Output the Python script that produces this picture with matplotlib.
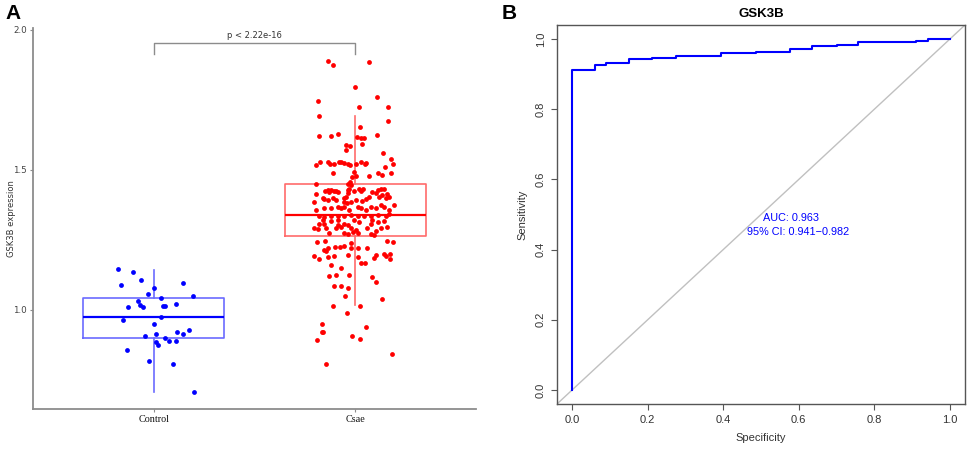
import matplotlib
matplotlib.use("Agg")
import matplotlib.pyplot as plt

# ---------------- Panel A data ----------------
groups = ["Control", "Csae"]
group_pos = [1, 2]

control_x = [0.820, 0.899, 0.835, 0.937, 1.144, 1.002, 0.969, 1.193, 1.036, 0.921,
             0.873, 0.932, 0.947, 1.112, 1.048, 1.058, 1.036, 0.845, 1.000, 1.173,
             1.117, 1.144, 1.013, 0.957, 1.054, 1.073, 1.109, 1.013, 1.021, 0.866,
             0.977, 1.097, 1.200]
control_y = [1.144, 1.135, 1.087, 1.105, 1.095, 1.079, 1.057, 1.048, 1.042, 1.030,
             1.010, 1.017, 1.011, 1.020, 1.015, 1.012, 0.974, 0.962, 0.949, 0.929,
             0.921, 0.915, 0.913, 0.906, 0.901, 0.887, 0.888, 0.885, 0.876, 0.858,
             0.819, 0.805, 0.707]

csae_x = [
    # upper tail
    1.863, 1.891, 2.069, 1.998, 2.106, 1.817, 2.020, 2.163, 1.818, 2.162,
    2.025, 1.820, 1.880, 1.914, 2.010, 2.031, 2.043, 2.109, 1.954, 1.974,
    2.036, 1.952, 2.137, 2.178, 2.186, 1.807, 1.827, 1.863, 1.873, 1.893,
    1.919, 1.932, 1.946, 1.962, 1.972, 2.005, 2.030, 2.048, 2.054, 2.150,
    1.888, 1.993, 2.002, 2.069, 2.114, 2.132, 2.177, 1.983, 1.975, 1.964,
    # box upper half
    1.805, 1.850, 1.863, 1.871, 1.880, 1.893, 1.904, 1.913, 1.805, 1.838,
    1.847, 1.863, 1.888, 1.904, 1.946, 1.954, 1.962, 1.970, 1.979, 1.995,
    2.020, 2.028, 2.041, 1.962, 1.942, 1.959, 1.979, 2.003, 2.036, 2.053,
    2.069, 2.086, 2.111, 2.127, 2.144, 2.102, 2.119, 2.135, 2.152, 2.160,
    2.168, 2.193, 1.797, 1.805, 1.847, 1.880, 1.913, 1.929, 1.946, 1.970,
    2.012, 2.028, 2.053, 2.078, 2.102, 2.127, 2.144, 2.168, 1.822, 1.847,
    1.880, 1.913, 1.946, 1.979, 2.012, 2.045, 2.078, 2.111, 2.152, 2.168,
    # box lower half
    1.838, 1.880, 1.913, 1.995, 2.020, 2.086, 2.144, 1.913, 1.904, 1.929,
    1.946, 1.962, 1.979, 1.987, 2.003, 2.012, 2.078, 2.111, 2.127, 2.061,
    2.102, 2.160, 1.797, 1.814, 1.855, 1.871, 1.946, 1.962, 2.078, 2.094,
    1.822, 1.847,
    # below box
    1.810, 1.850, 1.863, 1.843, 1.855, 1.899, 1.926, 1.942, 1.979, 1.979,
    2.012, 2.061, 2.160, 2.190, 1.797, 1.822, 1.863, 1.896, 1.962, 2.012,
    2.094, 2.102, 2.144, 2.152, 2.173, 2.173, 1.880, 1.929, 2.028, 2.048,
    1.871, 1.904, 1.970, 2.086,
    # lower tail
    2.102, 1.896, 1.929, 1.965, 1.949, 2.132, 1.891, 2.025, 1.960, 1.835,
    2.053, 1.833, 1.842, 1.812, 1.985, 2.023, 2.182, 1.855]
csae_y = [
    1.888, 1.874, 1.886, 1.796, 1.761, 1.746, 1.725, 1.724, 1.693, 1.674,
    1.654, 1.621, 1.621, 1.629, 1.618, 1.613, 1.614, 1.624, 1.590, 1.586,
    1.592, 1.570, 1.561, 1.537, 1.520, 1.518, 1.529, 1.527, 1.519, 1.519,
    1.526, 1.526, 1.524, 1.519, 1.518, 1.520, 1.529, 1.520, 1.525, 1.510,
    1.490, 1.492, 1.479, 1.479, 1.487, 1.483, 1.489, 1.473, 1.457, 1.449,
    1.448, 1.424, 1.427, 1.421, 1.427, 1.424, 1.424, 1.419, 1.412, 1.400,
    1.395, 1.392, 1.398, 1.392, 1.398, 1.404, 1.427, 1.433, 1.445, 1.424,
    1.433, 1.424, 1.431, 1.416, 1.386, 1.380, 1.386, 1.392, 1.388, 1.395,
    1.404, 1.421, 1.427, 1.433, 1.433, 1.416, 1.404, 1.410, 1.398, 1.412,
    1.404, 1.374, 1.386, 1.356, 1.362, 1.362, 1.368, 1.362, 1.368, 1.356,
    1.368, 1.362, 1.356, 1.368, 1.362, 1.374, 1.368, 1.356, 1.336, 1.332,
    1.336, 1.335, 1.336, 1.338, 1.336, 1.335, 1.336, 1.338, 1.335, 1.341,
    1.320, 1.317, 1.320, 1.320, 1.314, 1.320, 1.317, 1.302, 1.291, 1.297,
    1.308, 1.304, 1.291, 1.279, 1.285, 1.273, 1.308, 1.312, 1.291, 1.291,
    1.281, 1.296, 1.291, 1.288, 1.291, 1.273, 1.273, 1.269, 1.269, 1.267,
    1.308, 1.305,
    1.243, 1.245, 1.219, 1.213, 1.210, 1.223, 1.225, 1.229, 1.237, 1.219,
    1.219, 1.219, 1.245, 1.241, 1.193, 1.183, 1.189, 1.193, 1.195, 1.189,
    1.186, 1.195, 1.201, 1.193, 1.201, 1.183, 1.160, 1.148, 1.166, 1.166,
    1.120, 1.126, 1.126, 1.118,
    1.100, 1.085, 1.085, 1.079, 1.050, 1.038, 1.014, 1.014, 0.987, 0.948,
    0.937, 0.922, 0.922, 0.893, 0.907, 0.895, 0.843, 0.808]

# box statistics (q1, median, q3, lower whisker, upper whisker)
box_q1 = [0.901, 1.265]
box_med = [0.973, 1.337]
box_q3 = [1.041, 1.449]
box_lo = [0.708, 1.016]
box_hi = [1.143, 1.693]
group_colors = ["#0000FF", "#FF0000"]
box_edge_colors = ["#6b6bff", "#ff6b6b"]

p_label = "p < 2.22e-16"
yticks_a = [1.0, 1.5, 2.0]

# ---------------- Panel B data ----------------
roc_spec = [0.0, 0.0, 0.061, 0.061, 0.091, 0.091, 0.151, 0.151, 0.212, 0.212,
            0.275, 0.275, 0.394, 0.394, 0.487, 0.487, 0.576, 0.576, 0.636, 0.636,
            0.700, 0.700, 0.757, 0.757, 0.909, 0.909, 0.941, 0.941, 1.0]
roc_sens = [0.0, 0.911, 0.911, 0.926, 0.926, 0.932, 0.932, 0.942, 0.942, 0.947,
            0.947, 0.952, 0.952, 0.960, 0.960, 0.964, 0.964, 0.972, 0.972, 0.979,
            0.979, 0.984, 0.984, 0.991, 0.991, 0.995, 0.995, 1.0, 1.0]
auc_text = "AUC: 0.963"
ci_text = "95% CI: 0.941\u22120.982"
ticks_b = [0.0, 0.2, 0.4, 0.6, 0.8, 1.0]

# ---------------- Figure ----------------
W, H = 969, 453
fig = plt.figure(figsize=(W / 100, H / 100), dpi=100)
fig.patch.set_facecolor("white")

def frac(x0, y0, x1, y1):
    return [x0 / W, 1 - y1 / H, (x1 - x0) / W, (y1 - y0) / H]

# ----- Panel A -----
axA = fig.add_axes(frac(33, 28, 476, 409))
axA.set_xlim(0.4, 2.6)
axA.set_ylim(0.646, 2.006)

stats = []
for i in range(2):
    stats.append(dict(med=box_med[i], q1=box_q1[i], q3=box_q3[i],
                      whislo=box_lo[i], whishi=box_hi[i], fliers=[]))
for i in range(2):
    axA.bxp([stats[i]], positions=[group_pos[i]], widths=0.7, showcaps=False,
            showfliers=False, patch_artist=False,
            boxprops=dict(color=box_edge_colors[i], linewidth=1.2),
            whiskerprops=dict(color=box_edge_colors[i], linewidth=1.2),
            medianprops=dict(color=group_colors[i], linewidth=1.6),
            zorder=2)

axA.scatter(control_x, control_y, s=12, color=group_colors[0], linewidths=0, zorder=3)
axA.scatter(csae_x, csae_y, s=12, color=group_colors[1], linewidths=0, zorder=3)

# significance bracket
br_y, br_leg = 1.951, 1.913
axA.plot([1, 1, 2, 2], [br_leg, br_y, br_y, br_leg], color="#8c8c8c", lw=1.0, zorder=4)
axA.text(1.5, br_y + 0.012, p_label, ha="center", va="bottom", fontsize=6, color="#333333")

for s in ["top", "right"]:
    axA.spines[s].set_visible(False)
for s in ["left", "bottom"]:
    axA.spines[s].set_color("#8c8c8c")
    axA.spines[s].set_linewidth(1.3)
axA.set_yticks(yticks_a)
axA.set_yticklabels([f"{v:.1f}" for v in yticks_a], fontsize=6.3, color="#444444")
axA.set_xticks(group_pos)
axA.set_xticklabels(groups, fontsize=7.3, family="Liberation Serif", color="#111111")
axA.tick_params(axis="both", length=2.5, width=0.8, color="#8c8c8c", pad=2)
axA.set_ylabel("GSK3B expression", fontsize=6, color="#333333")
axA.yaxis.set_label_coords(-0.038, 0.5)

fig.text(5 / W, 1 - 19 / H, "A", fontsize=15, fontweight="bold", family="Liberation Sans")

# ----- Panel B -----
axB = fig.add_axes(frac(557, 25, 965, 404))
axB.set_xlim(-0.04, 1.04)
axB.set_ylim(-0.04, 1.04)
axB.axline((0, 0), (1, 1), color="#c0c0c0", lw=1.0, zorder=1)
axB.plot(roc_spec, roc_sens, color="#0000FF", lw=1.5, zorder=3)
axB.text(0.579, 0.489, auc_text, ha="center", va="center", fontsize=7.8,
         color="#0000FF", family="Liberation Sans")
axB.text(0.599, 0.450, ci_text, ha="center", va="center", fontsize=7.8,
         color="#0000FF", family="Liberation Sans")
axB.set_title("GSK3B", fontsize=9.5, fontweight="bold", family="Liberation Sans", pad=6)
axB.set_xticks(ticks_b)
axB.set_yticks(ticks_b)
axB.set_xticklabels([f"{v:.1f}" for v in ticks_b], fontsize=8, family="Liberation Sans", color="#333333")
axB.set_yticklabels([f"{v:.1f}" for v in ticks_b], fontsize=8, family="Liberation Sans",
                    color="#333333", rotation=90, va="center")
axB.tick_params(axis="both", length=4, width=0.8, color="#555555", pad=4)
for s in axB.spines.values():
    s.set_color("#555555")
    s.set_linewidth(1.0)
axB.set_xlabel("Specificity", fontsize=8, family="Liberation Sans", color="#333333", labelpad=6)
axB.set_ylabel("Sensitivity", fontsize=8, family="Liberation Sans", color="#333333", labelpad=6)

fig.text(502 / W, 1 - 19 / H, "B", fontsize=15, fontweight="bold", family="Liberation Sans")

fig.savefig("out.png", dpi=100, facecolor="white")
